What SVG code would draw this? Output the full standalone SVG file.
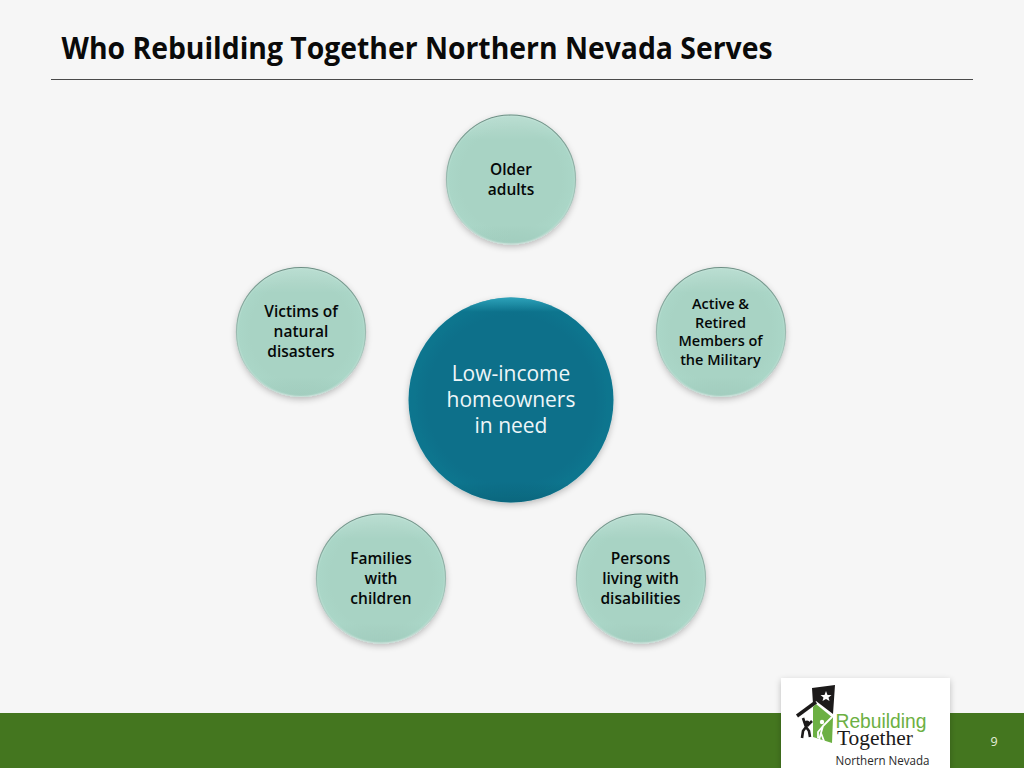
<svg xmlns="http://www.w3.org/2000/svg" width="1024" height="768" viewBox="0 0 1024 768">
<style>
text{font-family:"Open Sans","Noto Sans","Liberation Sans",sans-serif;text-anchor:middle}
.sm{font-size:15.5px;font-weight:600;fill:#050808}
.xs{font-size:14.5px;font-weight:600;fill:#050808}
.sat{fill:url(#sat);filter:url(#sh)}
.rim{fill:url(#rim)}
.edge{fill:none;stroke:url(#edge);stroke-width:1.2}
</style>
<defs>
<radialGradient id="sat" cx="50%" cy="50%" r="50%"><stop offset="0.78" stop-color="#a8d3c4"/><stop offset="0.96" stop-color="#aad6c7"/><stop offset="1" stop-color="#bfe3d7"/></radialGradient>
<linearGradient id="rim" x1="0" y1="0" x2="0" y2="1"><stop offset="0" stop-color="#fff" stop-opacity="0.2"/><stop offset="0.2" stop-color="#fff" stop-opacity="0"/><stop offset="0.85" stop-color="#6a8f84" stop-opacity="0"/><stop offset="1" stop-color="#6a8f84" stop-opacity="0.14"/></linearGradient>
<linearGradient id="edge" x1="0" y1="0" x2="0" y2="1"><stop offset="0" stop-color="#6f8f85"/><stop offset="0.6" stop-color="#a3c2b8"/><stop offset="1" stop-color="#c8ded7"/></linearGradient>
<radialGradient id="hub" cx="50%" cy="50%" r="50%"><stop offset="0.82" stop-color="#07708a"/><stop offset="1" stop-color="#0a768f"/></radialGradient>
<linearGradient id="hubrim" x1="0" y1="0" x2="0" y2="1"><stop offset="0" stop-color="#3ab4cb" stop-opacity="0.7"/><stop offset="0.07" stop-color="#3ab4cb" stop-opacity="0"/><stop offset="0.9" stop-color="#03384a" stop-opacity="0"/><stop offset="1" stop-color="#03384a" stop-opacity="0.25"/></linearGradient>
<filter id="sh" x="-20%" y="-20%" width="140%" height="140%"><feDropShadow dx="0" dy="2.500" stdDeviation="3" flood-color="#000" flood-opacity="0.24"/></filter>
</defs>
<rect width="1024" height="768" fill="#f6f6f6"/>
<rect y="713" width="1024" height="55" fill="#44761f"/>
<line x1="51" y1="79.500" x2="973" y2="79.500" stroke="#4a4a4a" stroke-width="1"/>
<text id="title" x="417" y="59" font-size="31" font-weight="700" fill="#0a0a0a" textLength="711" lengthAdjust="spacingAndGlyphs">Who Rebuilding Together Northern Nevada Serves</text>
<g id="connectors"></g>
<g id="node-older"><circle class="sat" cx="511" cy="179.500" r="65"/><circle class="rim" cx="511" cy="179.500" r="65"/><circle class="edge" cx="511" cy="179.500" r="64.500"/><text class="sm" x="511" y="175">Older</text><text class="sm" x="511" y="195">adults</text></g>
<g id="node-victims"><circle class="sat" cx="301" cy="332" r="65"/><circle class="rim" cx="301" cy="332" r="65"/><circle class="edge" cx="301" cy="332" r="64.500"/><text class="sm" x="301" y="317">Victims of</text><text class="sm" x="301" y="337">natural</text><text class="sm" x="301" y="357">disasters</text></g>
<g id="node-military"><circle class="sat" cx="721" cy="332" r="65"/><circle class="rim" cx="721" cy="332" r="65"/><circle class="edge" cx="721" cy="332" r="64.500"/><text class="xs" x="720.500" y="309">Active &amp;</text><text class="xs" x="720.500" y="327.500">Retired</text><text class="xs" x="720.500" y="346">Members of</text><text class="xs" x="720.500" y="364.500">the Military</text></g>
<g id="node-families"><circle class="sat" cx="381" cy="578.500" r="65"/><circle class="rim" cx="381" cy="578.500" r="65"/><circle class="edge" cx="381" cy="578.500" r="64.500"/><text class="sm" x="381" y="563.500">Families</text><text class="sm" x="381" y="583.500">with</text><text class="sm" x="381" y="603.500">children</text></g>
<g id="node-persons"><circle class="sat" cx="641" cy="578.500" r="65"/><circle class="rim" cx="641" cy="578.500" r="65"/><circle class="edge" cx="641" cy="578.500" r="64.500"/><text class="sm" x="640.500" y="563.500">Persons</text><text class="sm" x="640.500" y="583.500">living with</text><text class="sm" x="640.500" y="603.500">disabilities</text></g>
<g id="node-center"><circle cx="511" cy="400" r="102.500" fill="url(#hub)" filter="url(#sh)"/><circle cx="511" cy="400" r="102.500" fill="url(#hubrim)"/><g font-size="21" fill="#eef6f8"><text x="511" y="380.500">Low-income</text><text x="511" y="406.500">homeowners</text><text x="511" y="432.500">in need</text></g></g>
<g id="logo">
<rect x="781" y="678" width="169" height="90" fill="#fff" filter="url(#sh)"/>
<polygon points="812,688 835,685 833,714 816,701 813,704" fill="#1c1a1a"/>
<polygon points="826,691 827.500,695 831.500,695 828.500,697.500 829.500,701 826,699 822.500,701 823.500,697.500 820.500,695 824.500,695" fill="#fff"/>
<polygon points="816,704 833,718 832,743 813,737 813,707" fill="#6cb043"/>
<path d="M797,716 L816,702" fill="none" stroke="#1c1a1a" stroke-width="3.500"/>
<path d="M803,718 L806,727 L803,731 L802,738 M806,727 L809,731 L810,737 M812,721 L807,726" fill="none" stroke="#1c1a1a" stroke-width="2.600"/>
<circle cx="807" cy="723" r="2.400" fill="#1c1a1a"/>
<path d="M832,717 L823,726 L821,733 L824,741 M823,726 L818,732 L818,738 M821,733 L819,740" fill="none" stroke="#fff" stroke-width="1.800"/>
<circle cx="822" cy="722" r="2.200" fill="#fff"/>
<text x="881" y="728" font-size="21" fill="#6cb043" style="font-family:'Liberation Sans',sans-serif" textLength="91" lengthAdjust="spacingAndGlyphs">Rebuilding</text>
<text x="875" y="745" font-size="21" fill="#1c1a1a" style="font-family:'Liberation Serif',serif" textLength="76" lengthAdjust="spacingAndGlyphs">Together</text>
<text x="882.500" y="765" font-size="13.500" fill="#2a2a2a" textLength="94" lengthAdjust="spacingAndGlyphs">Northern Nevada</text>
</g>
<text id="page" x="994" y="746" font-size="12.500" fill="#e4eedb">9</text>
</svg>
